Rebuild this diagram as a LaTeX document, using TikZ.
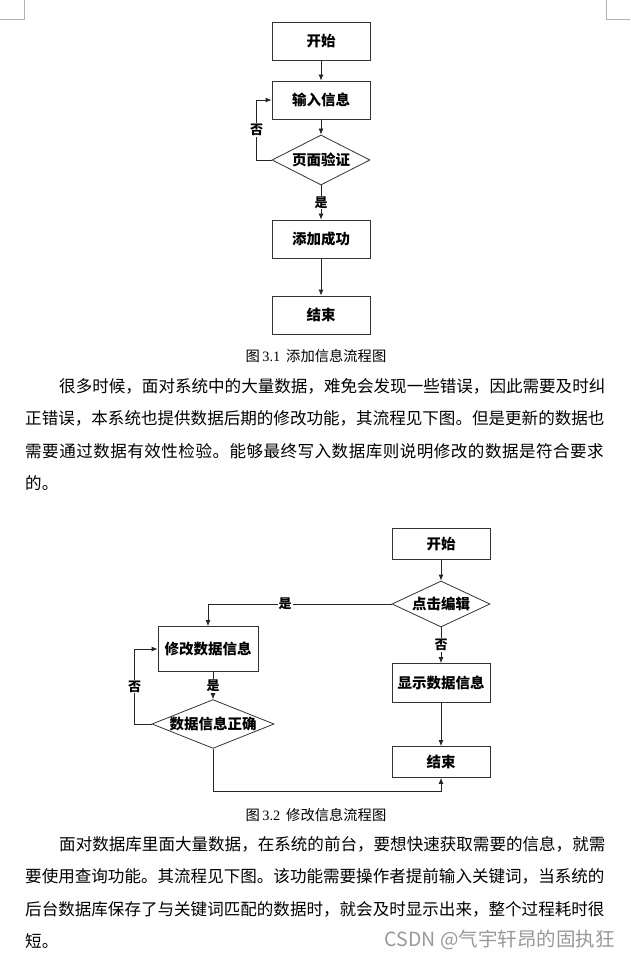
\documentclass[tikz,border=0pt]{standalone}
\usepackage{fontspec}
\setmainfont{Noto Sans CJK SC}
\newfontfamily\numfont{Liberation Serif}
\usetikzlibrary{shapes.geometric,arrows.meta}

\begin{document}
\begin{tikzpicture}[x=1pt,y=-1pt,
 box/.style ={draw=black!80,line width=.8pt,minimum width=98pt,inner sep=0pt,font=\fontsize{14.5}{14.5}\selectfont\bfseries},
 decision/.style ={diamond,aspect=2,draw=black!80,line width=.8pt,inner sep=0pt,font=\fontsize{14.5}{14.5}\selectfont\bfseries},
 flow/.style ={-{Latex[length=6pt,width=5pt]},draw=black!85,line width=.8pt},
 answer/.style ={fill=white,inner sep=1pt,font=\fontsize{13}{13}\selectfont\bfseries},
 para/.style ={anchor=west,inner sep=0pt,font=\fontsize{16.55}{16.55}\selectfont},
 caption/.style ={inner sep=0pt,font=\fontsize{14.3}{14.3}\selectfont},
 crop/.style ={-,draw=black!30,line width=.8pt}
 ]
%page
\fill[white] (0,0) rectangle (630,965);
\useasboundingbox (0,0) rectangle (630,965);
%draw crop marks
\draw[crop] (24,0) -- (24,19) -- (0,19);
\draw[crop] (606,0) -- (606,19) -- (630,19);

%draw first flow chart
\node[box,minimum height=38pt] (start1) at (321,41) {开始};
\node[box,minimum height=38pt] (input1) at (321,100) {输入信息};
\node[decision,minimum width=98pt,minimum height=50pt] (check1) at (321,160) {页面验证};
\node[box,minimum height=38pt] (added1) at (321,239) {添加成功};
\node[box,minimum height=38pt] (end1) at (321,315) {结束};
\draw[flow] (start1) -- (input1);
\draw[flow] (input1) -- (check1);
\draw[flow] (check1) -- node[answer] {是} (added1);
\draw[flow] (added1) -- (end1);
\draw[flow] (check1.west) -- ++(-15,0) |- node[answer,pos=.25] {否} (input1.west);
\node[caption] (cap1) at (316,356) {图\,{\numfont 3.1}\hspace{6pt}添加信息流程图};

%draw first paragraph
\node[para] (p1a) at (59,386) {很多时候，面对系统中的大量数据，难免会发现一些错误，因此需要及时纠};
\node[para] (p1b) at (25,418.5) {正错误，本系统也提供数据后期的修改功能，其流程见下图。但是更新的数据也};
\node[para] (p1c) at (25,451) {\addfontfeature{LetterSpace=2.9}需要通过数据有效性检验。能够最终写入数据库则说明修改的数据是符合要求};
\node[para] (p1d) at (25,483.5) {的。};

%draw second flow chart
\node[box,minimum height=31pt] (start2) at (441,544) {开始};
\node[decision,minimum width=98pt,minimum height=46pt] (edit2) at (441,604) {点击编辑};
\node[box,minimum height=39pt] (show2) at (441,683) {显示数据信息};
\node[box,minimum height=31pt] (end2) at (441,762) {结束};
\node[box,minimum width=100pt,minimum height=45pt] (change2) at (208,649) {修改数据信息};
\node[decision,aspect=2.5] (valid2) at (213,724) {数据信息正确};
\draw[flow] (start2) -- (edit2);
\draw[flow] (edit2) -- node[answer] {否} (show2);
\draw[flow] (show2) -- (end2);
\draw[flow] (edit2.west) -| node[answer,pos=.29] {是} (change2.north);
\draw[flow] (change2.south -| valid2.north) -- node[answer] {是} (valid2.north);
\draw[flow] (valid2.west) -- ++(-17,0) |- node[answer,pos=.25] {否} (change2.west);
\draw[flow] (valid2.south) -- ++(0,43) -| (end2.south);
\node[caption] (cap2) at (316,815) {图\,{\numfont 3.2}\hspace{6pt}修改信息流程图};

%draw second paragraph
\node[para] (p2a) at (59,844) {面对数据库里面大量数据，在系统的前台，要想快速获取需要的信息，就需};
\node[para] (p2b) at (25,876.5) {要使用查询功能。其流程见下图。该功能需要操作者提前输入关键词，当系统的};
\node[para] (p2c) at (25,909) {后台数据库保存了与关键词匹配的数据时，就会及时显示出来，整个过程耗时很};
\node[para] (p2d) at (25,941.5) {短。};

%draw watermark
\node[anchor=east,inner sep=0pt,text=black!40,font=\fontsize{19.5}{19.5}\selectfont] (mark) at (615,940) {CSDN @气宇轩昂的固执狂};
\end{tikzpicture}
\end{document}
